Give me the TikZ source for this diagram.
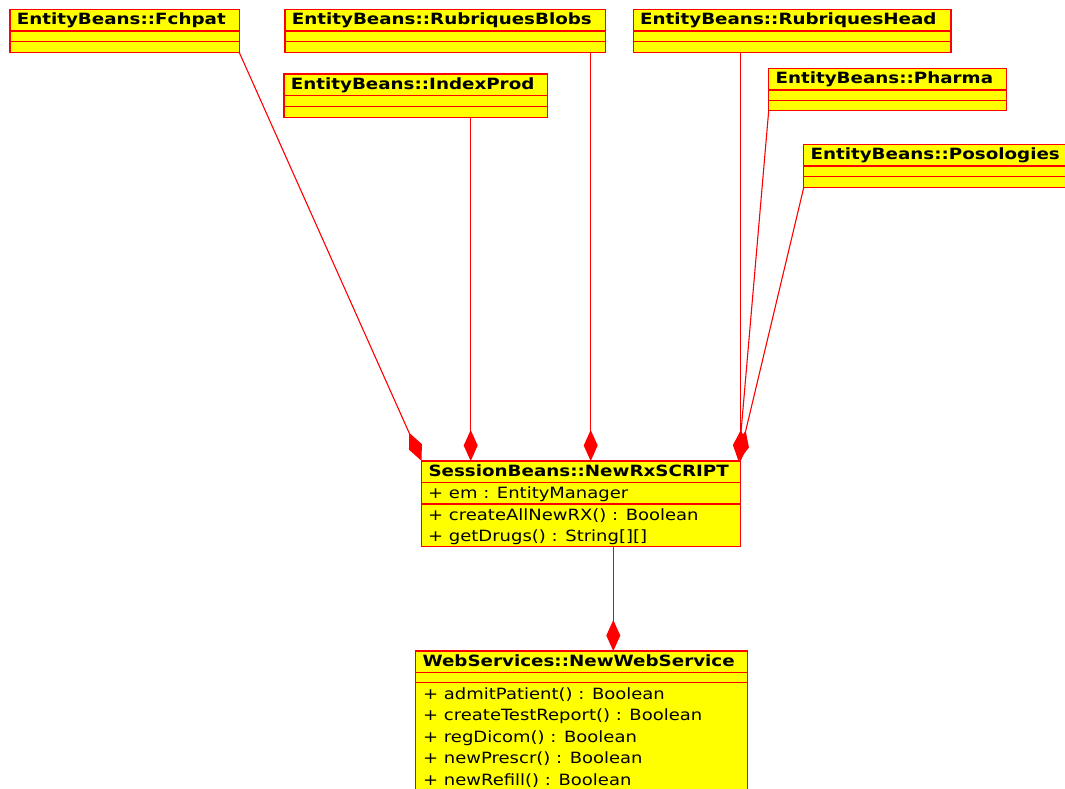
\documentclass[tikz,border=0pt]{standalone}
\usepackage{fontspec}
\setmainfont[FakeStretch=1.18]{DejaVu Sans}
\newfontfamily\memberfont[FakeStretch=1.16]{DejaVu Sans}
\usetikzlibrary{arrows.meta}

\definecolor{umlred}{RGB}{255,0,0}
\definecolor{umlyellow}{RGB}{255,255,0}

\tikzset{
  classbox/.style={draw=umlred, fill=umlyellow, line width=1.2pt, anchor=north west,
    inner sep=0pt, outer sep=0pt},
  compsep/.style={draw=umlred, line width=1.2pt},
  classtitle/.style={anchor=base west, inner sep=0pt,
    font=\bfseries\fontsize{15.5}{18}\selectfont},
  member/.style={anchor=base west, inner sep=0pt,
    font=\memberfont\fontsize{15.5}{18}\selectfont},
  compose/.style={draw=umlred, line width=1.1pt,
    -{Diamond[length=31pt 0 0,width=14pt 0 0]}},
}

% class box: name, left, top, right, bottom, title
\newcommand\umlclass[6]{%
  \node[classbox, minimum width={#4-#2}, minimum height={#5-#3}] (#1) at (#2,#3) {};
  \draw[compsep] ([yshift=-21.7pt]#1.north west) -- ([yshift=-21.7pt]#1.north east);
  \node[classtitle] (#1-title) at ([xshift=6.6pt,yshift=-15.7pt]#1.north west) {#6};
}
% second separator of a class without members
\newcommand\emptycomp[1]{%
  \draw[compsep] ([yshift=-32.4pt]#1.north west) -- ([yshift=-32.4pt]#1.north east);
}

\begin{document}
\begin{tikzpicture}[x=1pt,y=-1pt]
\clip (0,0) rectangle (1065,789);
\fill[white] (0,0) rectangle (1065,789);

% entity beans
\umlclass{fch}{10}{9.3}{239.3}{52.5}{EntityBeans::Fchpat}
\emptycomp{fch}
\umlclass{blobs}{285}{9.3}{605.7}{52.5}{EntityBeans::RubriquesBlobs}
\emptycomp{blobs}
\umlclass{idx}{284}{74}{547.7}{117.3}{EntityBeans::IndexProd}
\emptycomp{idx}
\umlclass{head}{633.3}{9.3}{951}{52.5}{EntityBeans::RubriquesHead}
\emptycomp{head}
\umlclass{pha}{768.7}{68.3}{1006.3}{110.7}{EntityBeans::Pharma}
\emptycomp{pha}
\umlclass{pos}{803.7}{144.3}{1090}{187.7}{EntityBeans::Posologies}
\emptycomp{pos}

% session bean
\umlclass{sess}{421.7}{461}{740.7}{546.7}{SessionBeans::NewRxSCRIPT}
\draw[compsep] ([yshift=-43pt]sess.north west) -- ([yshift=-43pt]sess.north east);
\node[member] (sess-m1) at (428,498.3) {+ em : EntityManager};
\node[member] (sess-m2) at (428,520) {+ createAllNewRX() : Boolean};
\node[member] (sess-m3) at (428,541.5) {+ getDrugs() : String[][]};

% web service
\umlclass{web}{415.7}{651}{747.7}{810}{WebServices::NewWebService}
\draw[compsep] ([yshift=-31.7pt]web.north west) -- ([yshift=-31.7pt]web.north east);
\node[member] (web-m1) at (423,699.3) {+ admitPatient() : Boolean};
\node[member] (web-m2) at (423,720.8) {+ createTestReport() : Boolean};
\node[member] (web-m3) at (423,742.3) {+ regDicom() : Boolean};
\node[member] (web-m4) at (423,763.8) {+ newPrescr() : Boolean};
\node[member] (web-m5) at (423,785.3) {+ newRefill() : Boolean};

% attachment points on the session bean
\coordinate (s-idx) at (470.7,461);
\coordinate (s-blobs) at (590.7,461);
\coordinate (s-agg) at (738.5,461);
\coordinate (s-web) at (613.3,546.7);

% compositions
\draw[compose] (fch.south east) -- (sess.north west);
\draw[compose] (idx.south -| s-idx) -- (s-idx);
\draw[compose] (blobs.south -| s-blobs) -- (s-blobs);
\draw[compose] (head.south -| sess.north east) -- (sess.north east);
\draw[compose] (pha.south west) -- (s-agg);
\draw[compose] (pos.south west) -- (s-agg);
\draw[compose] (s-web) -- (s-web |- web.north);
\end{tikzpicture}
\end{document}
